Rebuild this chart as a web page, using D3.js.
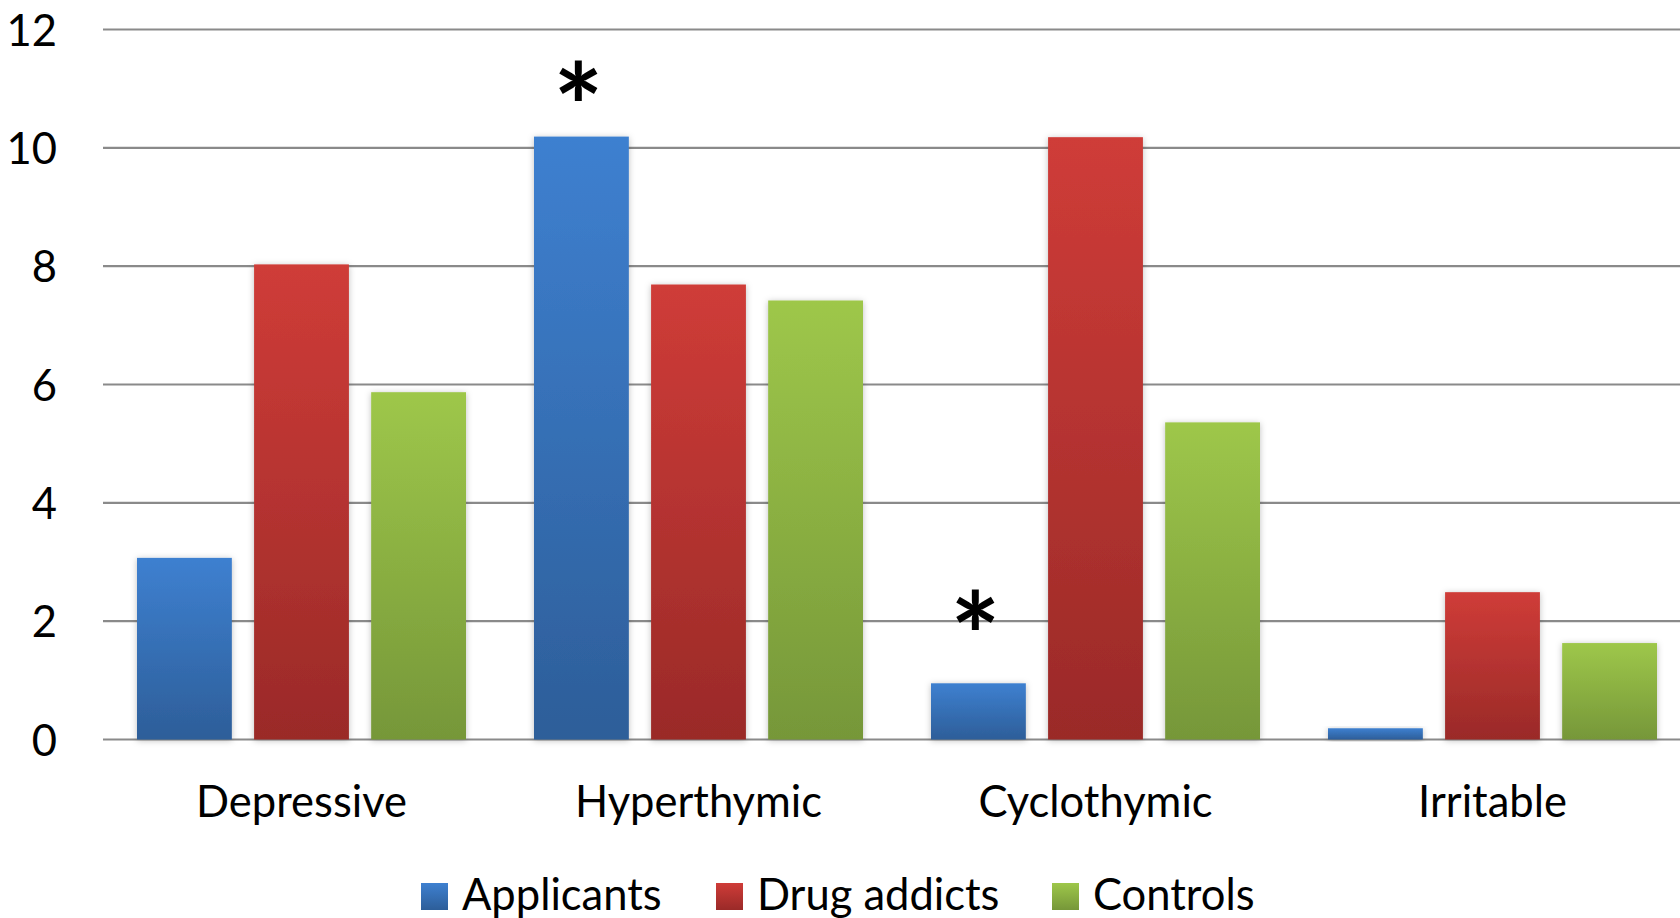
<!DOCTYPE html>
<html>
<head>
<meta charset="utf-8">
<script src="https://cdn.jsdelivr.net/npm/d3@7"></script>
<style>
  html, body { margin: 0; padding: 0; background: #fff; }
  svg { display: block; }
  text { font-family: Lato, "Open Sans", sans-serif; fill: #000; }
</style>
</head>
<body>
<svg id="chart" width="1680" height="918"></svg>
<script>
// ---- data ----
const categories = ["Depressive", "Hyperthymic", "Cyclothymic", "Irritable"];
const seriesNames = ["Applicants", "Drug addicts", "Controls"];
const applicants = [3.07, 10.19, 0.95, 0.19];
const drugAddicts = [8.03, 7.69, 10.18, 2.49];
const controls = [5.87, 7.42, 5.36, 1.63];
const yTicks = [0, 2, 4, 6, 8, 10, 12];
// significance markers: [category, series, y position of marker]
const markerCategories = ["Hyperthymic", "Cyclothymic"];
const markerSeries = ["Applicants", "Applicants"];
const markerY = [11.19, 2.24];
const markerText = ["*", "*"];

const seriesValues = [applicants, drugAddicts, controls];
const colorsTop = ["#3e80d0", "#cf3c38", "#9ec74a"];
const colorsBottom = ["#2d5e99", "#9a2a28", "#769739"];

const svg = d3.select("#chart");
const defs = svg.append("defs");

seriesNames.forEach((s, i) => {
  const g = defs.append("linearGradient")
    .attr("id", "grad" + i)
    .attr("x1", 0).attr("y1", 0).attr("x2", 0).attr("y2", 1);
  g.append("stop").attr("offset", "0%").attr("stop-color", colorsTop[i]);
  g.append("stop").attr("offset", "100%").attr("stop-color", colorsBottom[i]);
});
const f = defs.append("filter").attr("id", "shadow")
  .attr("x", "-20%").attr("y", "-20%").attr("width", "140%").attr("height", "140%");
f.append("feDropShadow").attr("dx", 0).attr("dy", 1).attr("stdDeviation", 3)
  .attr("flood-color", "#000").attr("flood-opacity", 0.25);

const x0 = d3.scaleBand().domain(categories).range([103, 1691]).padding(0);
const x1 = d3.scaleBand().domain(seriesNames).range([34, 363]).paddingInner(0.19).paddingOuter(0);
const y = d3.scaleLinear().domain([0, 12]).range([739.5, 29.5]);

const fontSize = 43.5;

// gridlines
const grid = svg.append("g");
grid.selectAll("line").data(yTicks).join("line")
  .attr("x1", 103).attr("x2", 1680)
  .attr("y1", d => y(d)).attr("y2", d => y(d))
  .attr("stroke", "#8a8a8a").attr("stroke-width", 2.2);

// y axis labels
const yAxis = d3.axisLeft(y).tickValues(yTicks).tickSize(0).tickPadding(0);
const yg = svg.append("g").attr("transform", "translate(57,0)").call(yAxis);
yg.select(".domain").remove();
yg.selectAll("text")
  .attr("font-size", fontSize).attr("font-family", "Lato, sans-serif")
  .attr("fill", "#000").attr("dy", "0.36em");

// bars
const groups = svg.append("g").selectAll("g").data(categories).join("g")
  .attr("transform", c => `translate(${x0(c)},0)`);
groups.selectAll("rect")
  .data((c, ci) => seriesNames.map((s, si) => ({ s, si, v: seriesValues[si][ci] })))
  .join("rect")
  .attr("x", d => x1(d.s))
  .attr("width", x1.bandwidth())
  .attr("y", d => y(d.v))
  .attr("height", d => y(0) - y(d.v))
  .attr("fill", d => `url(#grad${d.si})`)
  .attr("filter", "url(#shadow)");

// x axis labels
const xAxis = d3.axisBottom(x0).tickSize(0).tickPadding(0);
const xg = svg.append("g").attr("transform", "translate(0,817)").call(xAxis);
xg.select(".domain").remove();
xg.selectAll("text")
  .attr("font-size", fontSize).attr("font-family", "Lato, sans-serif")
  .attr("fill", "#000").attr("dy", 0);

// significance markers
svg.append("g").selectAll("text").data(markerCategories).join("text")
  .attr("x", (c, i) => x0(c) + x1(markerSeries[i]) + x1.bandwidth() / 2 - 3)
  .attr("y", (c, i) => y(markerY[i]))
  .attr("dy", "0.62em")
  .attr("text-anchor", "middle")
  .attr("font-size", 118).attr("font-weight", "bold")
  .attr("font-family", "DejaVu Sans, sans-serif")
  .text((c, i) => markerText[i]);

// legend
const legendX = [421, 716, 1052];
const legend = svg.append("g");
const li = legend.selectAll("g").data(seriesNames).join("g")
  .attr("transform", (s, i) => `translate(${legendX[i]},0)`);
li.append("rect").attr("x", 0).attr("y", 883).attr("width", 27).attr("height", 27)
  .attr("fill", (s, i) => `url(#grad${i})`);
li.append("text").attr("x", 41).attr("y", 910)
  .attr("font-size", fontSize).attr("font-family", "Lato, sans-serif")
  .text(s => s);
</script>
</body>
</html>
